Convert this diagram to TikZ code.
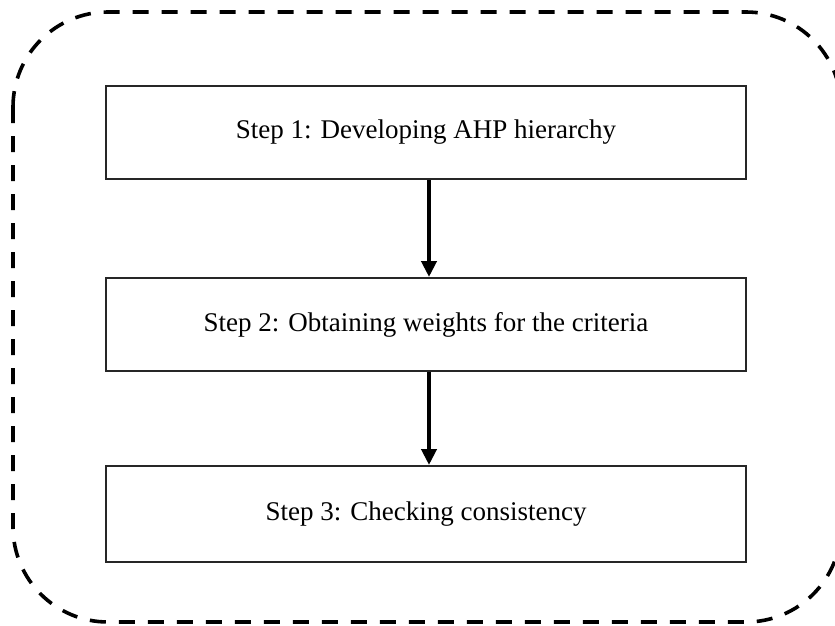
\documentclass[tikz,border=0pt]{standalone}
\usepackage{fontspec}
\setmainfont{Liberation Serif}
\usetikzlibrary{arrows.meta}
\begin{document}
\begin{tikzpicture}[x=1pt,y=-1pt,
  stepbox/.style={draw=black!85,line width=2pt,minimum width=640pt,minimum height=93pt,
    inner sep=0pt,font=\fontsize{27}{30}\selectfont,anchor=north west},
  flow/.style={line width=4pt,-{Triangle[length=16pt,width=15pt]}},
  frame/.style={line width=3.6pt,dash pattern=on 16pt off 13pt,rounded corners=95pt}]
\useasboundingbox (0,0) rectangle (835,625);
% dashed outer frame (its right edge runs slightly past the page)
\draw[frame] (13,12) rectangle (841,622);
% the three steps
\node[stepbox] (s1) at (105,85) {Step 1: Developing AHP hierarchy};
\node[stepbox] (s2) at (105,277) {Step 2: Obtaining weights for the criteria};
\node[stepbox,minimum height=96pt] (s3) at (105,465) {Step 3: Checking consistency};
% connectors
\draw[flow] ([xshift=3pt]s1.south) -- ([xshift=3pt]s2.north);
\draw[flow] ([xshift=3pt]s2.south) -- ([xshift=3pt]s3.north);
\end{tikzpicture}
\end{document}
